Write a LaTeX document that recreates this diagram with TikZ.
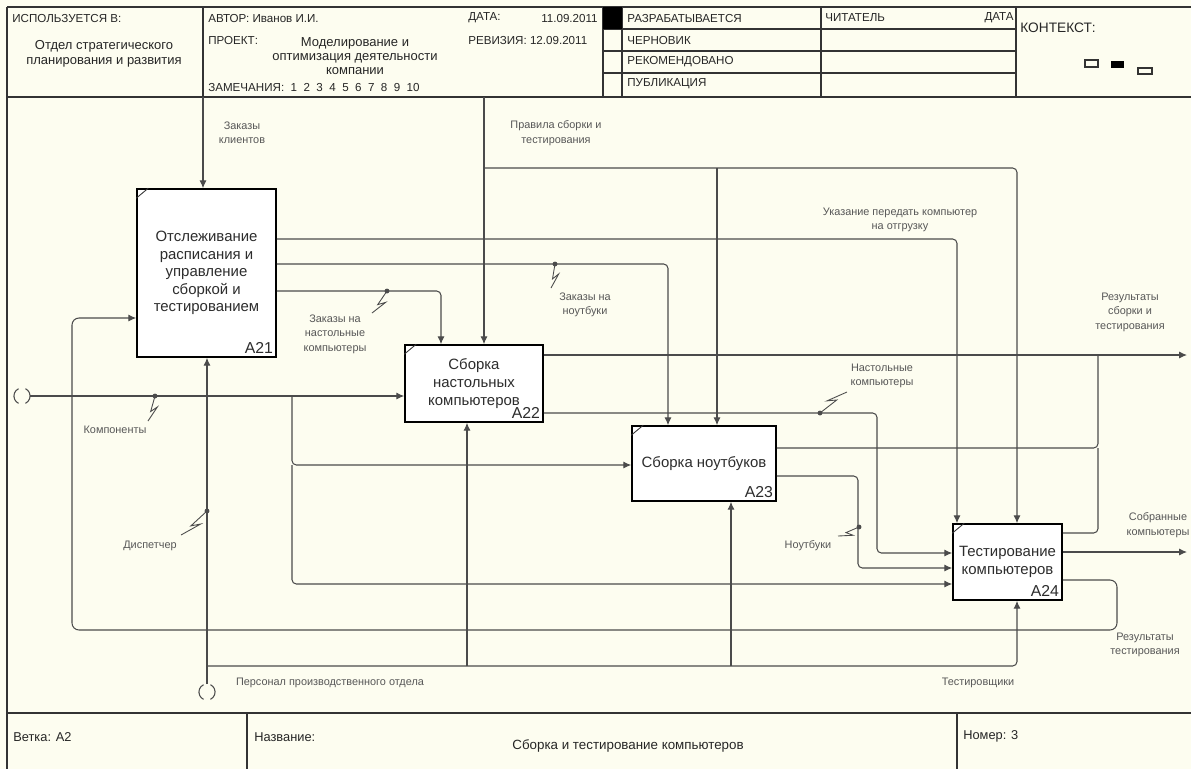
\documentclass[tikz,border=0pt]{standalone}
\usepackage{fontspec}
\setmainfont{Liberation Sans}
\usetikzlibrary{arrows.meta,calc}
\definecolor{cream}{RGB}{253,253,240}
\definecolor{ln}{RGB}{75,75,75}
\definecolor{tx}{RGB}{45,45,45}
\tikzset{
  frame/.style={draw=black!80, line width=0.8pt},
  box/.style={draw=black, line width=0.9pt, fill=white, inner sep=0pt, align=center,
              font=\fontsize{8.5}{10}\selectfont, text=tx},
  num/.style={anchor=south east, inner sep=2pt, font=\fontsize{9}{10}\selectfont, text=tx},
  conn/.style={draw=ln, line width=0.6pt, rounded corners=2.5pt},
  arr/.style={conn, -{Latex[length=4.5pt,width=4pt]}},
  lbl/.style={font=\fontsize{6.2}{8.2}\selectfont, align=center, text=tx!80, inner sep=0pt},
  hdr/.style={font=\fontsize{6.6}{8}\selectfont, anchor=west, inner sep=0pt, text=black!85},
  ftr/.style={font=\fontsize{7.3}{9}\selectfont, anchor=west, inner sep=0pt, text=black!85},
  sqline/.style={draw=ln, line width=0.5pt},
}
\newcommand{\squig}[2]{%
  \fill[ln] (#1) circle[radius=1.4pt];
  \draw[sqline] (#1) -- ($(#1)!0.62!(#2)$) -- ($(#1)!0.38!(#2)!3pt!90:(#2)$) -- (#2);}
\newcommand{\tunnel}[1]{%
  \draw[ln, line width=0.6pt] ([shift={(115:4.6pt)}]#1) arc[start angle=115, end angle=245, radius=4.6pt];
  \draw[ln, line width=0.6pt] ([shift={(-65:4.6pt)}]#1) arc[start angle=-65, end angle=65, radius=4.6pt];}
\begin{document}
\begin{tikzpicture}[x=0.02cm, y=-0.02cm]
\fill[cream] (0,0) rectangle (1191,769);
\useasboundingbox (0,0) rectangle (1191,769);

% ---------- frame ----------
\draw[frame] (7,7) -- (1191,7);
\draw[frame] (7,97) -- (1191,97);
\draw[frame] (7,7) -- (7,769);
\draw[frame] (7,713) -- (1191,713);
\foreach \xx in {203,603,622,821,1016} \draw[frame] (\xx,7) -- (\xx,97);
\foreach \yy in {29,51,73} \draw[frame] (603,\yy) -- (1016,\yy);
\fill[black] (603,7) rectangle (622,29);
\draw[frame] (247,713) -- (247,769);
\draw[frame] (957,713) -- (957,769);

% ---------- header texts ----------
\node[hdr] (h1) at (12,18) {ИСПОЛЬЗУЕТСЯ В:};
\node[font=\fontsize{7.4}{8.2}\selectfont, align=center, inner sep=0pt, text=black!85] (h2) at (104,54) {Отдел стратегического\\планирования и развития};
\node[hdr] (h3) at (208,18) {АВТОР: Иванов И.И.};
\node[hdr] (h4) at (468,18) {ДАТА:};
\node[hdr, anchor=east] (h5) at (598,18) {11.09.2011};
\node[hdr] (h6) at (208,40) {ПРОЕКТ:};
\node[font=\fontsize{7.4}{8}\selectfont, align=center, inner sep=0pt, text=black!85] (h7) at (355,56) {Моделирование и\\оптимизация деятельности\\компании};
\node[hdr] (h8) at (208,87) {ЗАМЕЧАНИЯ:\ \ 1\ \ 2\ \ 3\ \ 4\ \ 5\ \ 6\ \ 7\ \ 8\ \ 9\ \ 10};
\node[hdr] (h9) at (468,40) {РЕВИЗИЯ: 12.09.2011};
\node[hdr] (s1) at (627,18) {РАЗРАБАТЫВАЕТСЯ};
\node[hdr] (s2) at (627,40) {ЧЕРНОВИК};
\node[hdr] (s3) at (627,62) {РЕКОМЕНДОВАНО};
\node[hdr] (s4) at (627,84) {ПУБЛИКАЦИЯ};
\node[hdr] (rd) at (825,18) {ЧИТАТЕЛЬ};
\node[hdr, anchor=east] (dt) at (1014,18) {ДАТА};
\node[font=\fontsize{7.8}{9}\selectfont, anchor=west, inner sep=0pt, text=black!85] (ctx) at (1020,28) {КОНТЕКСТ:};
\draw[black!80, line width=0.6pt] (1085,60) rectangle (1098,67);
\fill[black] (1111,61) rectangle (1124,68);
\draw[black!80, line width=0.6pt] (1138,68) rectangle (1152,74);

% ---------- footer texts ----------
\node[ftr] (f1) at (13,737) {Ветка: A2};
\node[ftr] (f2) at (254,737) {Название:};
\node[font=\fontsize{7.6}{9}\selectfont, inner sep=0pt, text=black!85] (f3) at (628,746) {Сборка и тестирование компьютеров};
\node[ftr] (f4) at (963,736) {Номер: 3};

% ---------- activity boxes ----------
\node[box, minimum width=2.78cm, minimum height=3.36cm] (A21) at (206.5,273) {Отслеживание\\расписания и\\управление\\сборкой и\\тестированием};
\node[box, minimum width=2.76cm, minimum height=1.54cm] (A22) at (474,383.5) {Сборка\\настольных\\компьютеров};
\node[box, minimum width=2.88cm, minimum height=1.50cm] (A23) at (704,463.5) {Сборка ноутбуков};
\node[box, minimum width=2.18cm, minimum height=1.52cm] (A24) at (1007.5,562) {Тестирование\\компьютеров};
\foreach \b in {A21,A22,A23,A24}{
  \node[num] (\b n) at (\b.south east) {\b};
  \draw[black!80, line width=0.5pt] ($(\b.north west)+(0,10)$) -- ($(\b.north west)+(12,0)$);
}

% ---------- coordinates ----------
\coordinate (zk) at (203,97);
\coordinate (pr) at (484,97);
\coordinate (p1) at (484,168);
\coordinate (p2) at (717,168);
\coordinate (p3) at (1017,168);
\coordinate (u1) at (957,239);
\coordinate (u2) at (668,264);
\coordinate (u3) at (441,291);
\coordinate (fb1) at (1117,580);
\coordinate (fb2) at (1117,630);
\coordinate (fb3) at (72,630);
\coordinate (fb4) at (72,318);
\coordinate (t1) at (22,396);
\coordinate (k0) at (30,396);
\coordinate (k1) at (292,396);
\coordinate (k2) at (292,465);
\coordinate (k3) at (292,584);
\coordinate (r1) at (1187,355);
\coordinate (r2) at (1098,355);
\coordinate (r3) at (1098,448);
\coordinate (r4) at (1098,533);
\coordinate (o1) at (1187,552);
\coordinate (n1) at (877,413);
\coordinate (n2) at (877,553);
\coordinate (b1) at (858,476);
\coordinate (b2) at (858,568);
\coordinate (t2) at (207,692);
\coordinate (m0) at (207,684);
\coordinate (m1) at (207,666);
\coordinate (m2) at (1017,666);
\coordinate (m3) at (467,666);
\coordinate (m4) at (731,666);

% ---------- connectors ----------
\draw[arr] (zk) -- (zk |- A21.north);
\draw[arr] (pr) -- (pr |- A22.north);
\draw[arr] (p1) -- (p3) -- (p3 |- A24.north);
\draw[arr] (p2) -- (p2 |- A23.north);
\draw[arr] (A21.east |- u1) -- (u1) -- (u1 |- A24.north);
\draw[arr] (A21.east |- u2) -- (u2) -- (u2 |- A23.north);
\draw[arr] (A21.east |- u3) -- (u3) -- (u3 |- A22.north);
\draw[arr, rounded corners=4pt] (A24.east |- fb1) -- (fb1) -- (fb2) -- (fb3) -- (fb4) -- (A21.west |- fb4);
\tunnel{t1}
\draw[arr] (k0) -- (A22.west |- k0);
\draw[arr] (k1) -- (k2) -- (A23.west |- k2);
\draw[arr] (k2) -- (k3) -- (A24.west |- k3);
\draw[arr] (A22.east |- r1) -- (r1);
\draw[conn] (A23.east |- r3) -- (r3) -- (r2);
\draw[conn] (A24.east |- r4) -- (r4) -- (r3);
\draw[arr] (A24.east |- o1) -- (o1);
\draw[arr] (A22.east |- n1) -- (n1) -- (n2) -- (A24.west |- n2);
\draw[arr] (A23.east |- b1) -- (b1) -- (b2) -- (A24.west |- b2);
\tunnel{t2}
\draw[arr] (m0) -- (m0 |- A21.south);
\draw[arr] (m1) -- (m2) -- (m2 |- A24.south);
\draw[arr] (m3) -- (m3 |- A22.south);
\draw[arr] (m4) -- (m4 |- A23.south);

% ---------- squiggles ----------
\coordinate (q1a) at (387,291); \coordinate (q1b) at (372,313);
\coordinate (q2a) at (555,264); \coordinate (q2b) at (551,288);
\coordinate (q3a) at (155,396); \coordinate (q3b) at (148,421);
\coordinate (q4a) at (207,511); \coordinate (q4b) at (181,535);
\coordinate (q5a) at (820,413); \coordinate (q5b) at (847,392);
\coordinate (q6a) at (859,527); \coordinate (q6b) at (838,536);
\squig{q1a}{q1b}
\squig{q2a}{q2b}
\squig{q3a}{q3b}
\squig{q4a}{q4b}
\squig{q5a}{q5b}
\squig{q6a}{q6b}

% ---------- arrow labels ----------
\node[lbl] (L1) at (242,133) {Заказы\\клиентов};
\node[lbl] (L2) at (556,133) {Правила сборки и\\тестирования};
\node[lbl] (L3) at (900,220) {Указание передать компьютер\\на отгрузку};
\node[lbl] (L4) at (585,305) {Заказы на\\ноутбуки};
\node[lbl] (L5) at (335,334) {Заказы на\\настольные\\компьютеры};
\node[lbl] (L6) at (1130,312) {Результаты\\сборки и\\тестирования};
\node[lbl] (L7) at (882,376) {Настольные\\компьютеры};
\node[lbl] (L8) at (115,430) {Компоненты};
\node[lbl] (L9) at (808,546) {Ноутбуки};
\node[lbl] (L10) at (1158,525) {Собранные\\компьютеры};
\node[lbl] (L11) at (150,546) {Диспетчер};
\node[lbl] (L12) at (1145,645) {Результаты\\тестирования};
\node[lbl] (L13) at (330,683) {Персонал производственного отдела};
\node[lbl] (L14) at (978,683) {Тестировщики};
\end{tikzpicture}
\end{document}
